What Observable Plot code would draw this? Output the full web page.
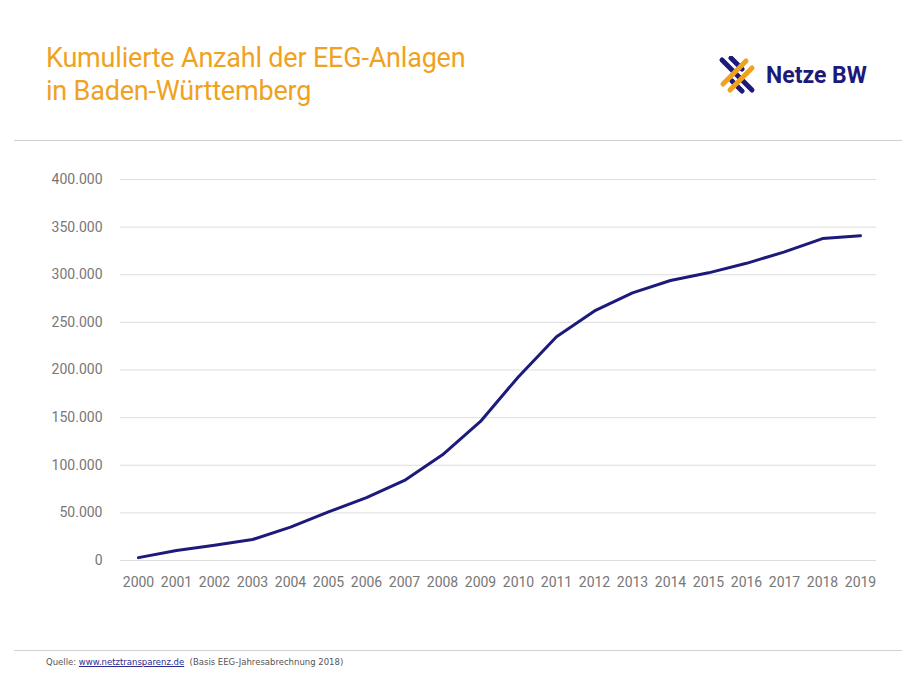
<!DOCTYPE html>
<html><head><meta charset="utf-8">
<script src="https://cdn.jsdelivr.net/npm/d3@7"></script>
<script src="https://cdn.jsdelivr.net/npm/@observablehq/plot@0.6"></script>
<style>
body{margin:0;width:915px;height:681px;position:relative;background:#fff;font-family:Roboto,sans-serif;overflow:hidden}
#title{position:absolute;left:46px;top:42px;color:#f0a21f;font-size:27px;line-height:33px;font-weight:400;letter-spacing:-0.2px}
#logo{position:absolute;left:718px;top:56px;display:flex;align-items:center}
#logo span{color:#1c1a7a;font-weight:700;font-size:23px;margin-left:10px}
.hr{position:absolute;left:14px;width:888px;height:1px;background:#d0d0d0}
#chart{position:absolute;left:0;top:160px}
#foot{position:absolute;left:46px;top:657px;font-size:8.5px;color:#555;font-family:Verdana,"DejaVu Sans",sans-serif}
#foot a{color:#2a2a90}
</style></head><body>
<div id="title">Kumulierte Anzahl der EEG-Anlagen<br>in Baden-Württemberg</div>
<div id="logo"><svg width="38" height="38" viewBox="0 0 38 38">
<g stroke-linecap="round" stroke-width="5">
<line x1="4" y1="4" x2="34" y2="34" stroke="#1c1a7a"/>
<line x1="13" y1="2" x2="24" y2="13" stroke="#1c1a7a"/>
<line x1="14" y1="25" x2="24" y2="35" stroke="#1c1a7a"/>
<line x1="5" y1="28" x2="28" y2="5" stroke="#f0a21f"/>
<line x1="12" y1="34" x2="34" y2="12" stroke="#f0a21f"/>
</g></svg><span>Netze BW</span></div>
<div class="hr" style="top:140px"></div>
<div id="chart"></div>
<div class="hr" style="top:650px"></div>
<div id="foot">Quelle: <a href="#">www.netztransparenz.de</a> &nbsp;(Basis EEG-Jahresabrechnung 2018)</div>
<script>
const years = ["2000","2001","2002","2003","2004","2005","2006","2007","2008","2009","2010","2011","2012","2013","2014","2015","2016","2017","2018","2019"];
const counts = [3000,10500,16000,22000,35000,51000,66000,84000,111000,146000,193000,235000,262000,281000,294000,302000,312000,324000,338000,341000];
const yTicks = [0,50000,100000,150000,200000,250000,300000,350000,400000];
const data = years.map((y,i)=>({year:y,count:counts[i]}));
const fmt = d3.formatLocale({decimal:",",thousands:".",grouping:[3],currency:["","€"]}).format(",");
const plot = Plot.plot({
  width:915,height:440,marginLeft:120,marginRight:39,marginTop:19,marginBottom:40,
  style:{fontFamily:"Roboto,sans-serif",fontSize:"14px",color:"#777"},
  x:{type:"point",domain:years,padding:0,insetLeft:13,insetRight:12,label:null,tickSize:0,tickPadding:17},
  y:{domain:[0,400000],ticks:yTicks,tickFormat:d=>fmt(d),label:null,tickSize:0,tickPadding:18},
  marks:[
    Plot.gridY(yTicks,{stroke:"#ddd",strokeOpacity:1}),
    Plot.line(data,{x:"year",y:"count",stroke:"#1c1a7a",strokeWidth:3})
  ]
});
document.getElementById("chart").appendChild(plot);
</script></body></html>
